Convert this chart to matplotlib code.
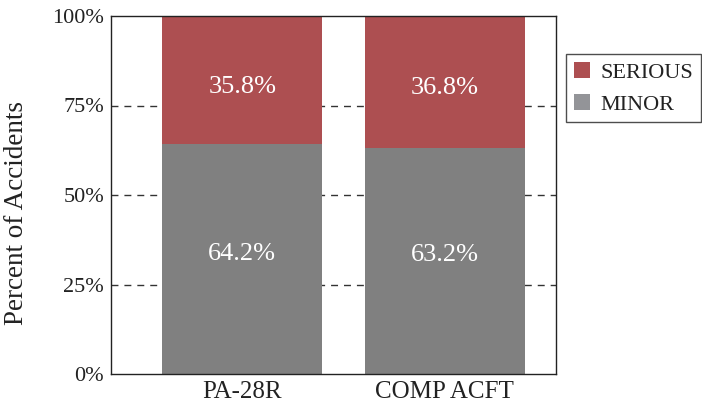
import matplotlib
matplotlib.use("Agg")
import matplotlib.pyplot as plt
from matplotlib.patches import Patch
from matplotlib.transforms import offset_copy

categories = ["PA-28R", "COMP ACFT"]
minor = [64.2, 63.2]
serious = [35.8, 36.8]
yticks = [0, 25, 50, 75, 100]
ytick_labels = ["0%", "25%", "50%", "75%", "100%"]

plt.rcParams['font.family'] = ['Liberation Serif', 'DejaVu Serif']

fig = plt.figure(figsize=(7.02, 4.04), dpi=100)
ax = fig.add_axes([111/702, 1-374/404, (556-111)/702, (374-16)/404])

c_minor = "#808080"
c_serious = "#ad4f51"
x = list(range(len(categories)))
w = 0.792
ax.bar(x, minor, width=w, color=c_minor, zorder=2)
ax.bar(x, serious, width=w, bottom=minor, color=c_serious, zorder=2)

tr_low = offset_copy(ax.transData, fig=fig, x=0, y=5.5, units='dots')
tr_up = offset_copy(ax.transData, fig=fig, x=0, y=-6.5, units='dots')
for i in x:
    ax.text(i, minor[i]/2, f"{minor[i]:.1f}%", ha="center", va="center",
            color="white", fontsize=19, zorder=3, transform=tr_low)
    ax.text(i, minor[i] + serious[i]/2, f"{serious[i]:.1f}%", ha="center", va="center",
            color="white", fontsize=19, zorder=3, transform=tr_up)

ax.set_xlim(-0.649, 1.55)
ax.set_ylim(0, 100)
ax.set_yticks(yticks)
ax.set_yticklabels(ytick_labels, fontsize=16)
ax.set_xticks(x)
ax.set_xticklabels(categories, fontsize=18)
ax.tick_params(axis='x', length=0, pad=5)
ax.tick_params(axis='y', length=0, pad=5)
for t in ax.get_xticklabels() + ax.get_yticklabels():
    t.set_color("#222222")

for yv in yticks[1:-1]:
    ax.axhline(yv, color="#333333", lw=1, ls=(0, (5, 4.3)), zorder=1)

for s in ax.spines.values():
    s.set_color("#222222")
    s.set_linewidth(1)

ax.set_ylabel("Percent of Accidents", fontsize=19.5, color="#222222")
ax.yaxis.set_label_coords(-(111-29)/445, 0.45)

handles = [Patch(facecolor=c_serious, label="SERIOUS"),
           Patch(facecolor="#939498", label="MINOR")]
leg = fig.legend(handles=handles, loc="upper left",
                 bbox_to_anchor=(566/702, 1-54/404), fontsize=16,
                 frameon=True, fancybox=False, edgecolor="#222222",
                 handlelength=0.75, handleheight=0.75, handletextpad=0.45,
                 borderpad=0.35, labelspacing=0.5, borderaxespad=0)
leg.get_frame().set_linewidth(1)
for t in leg.get_texts():
    t.set_color("#222222")

fig.savefig("out.png", dpi=100)
